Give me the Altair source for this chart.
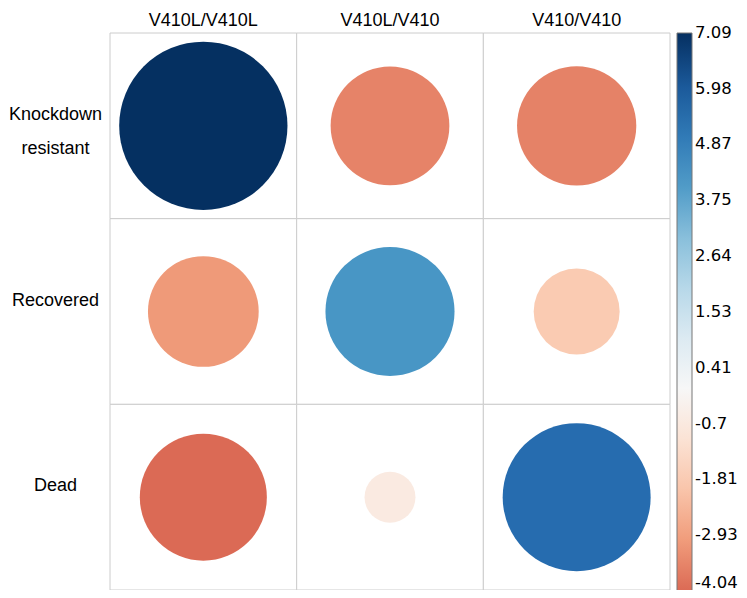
import altair as alt
import pandas as pd

rows = ["Knockdown resistant", "Recovered", "Dead"]
cols = ["V410L/V410L", "V410L/V410", "V410/V410"]
knockdown = [7.09, -3.53, -3.56]
recovered = [-3.07, 4.17, -1.85]
dead = [-4.04, -0.65, 5.48]
legend_ticks = [-4.04, -2.93, -1.81, -0.7, 0.41, 1.53, 2.64, 3.75, 4.87, 5.98, 7.09]

records = []
for r, vals in zip(rows, [knockdown, recovered, dead]):
    for c, v in zip(cols, vals):
        records.append({"row": r, "col": c, "value": v})
df = pd.DataFrame(records)

vmin, vmax = min(legend_ticks), max(legend_ticks)

# ColorBrewer RdBu (corrplot COL2) over a symmetric range, cut at vmin
rdbu = ["#67001f", "#b2182b", "#d6604d", "#f4a582", "#fddbc7", "#f7f7f7",
        "#d1e5f0", "#92c5de", "#4393c3", "#2166ac", "#053061"]
stops = [-vmax + 2 * vmax * i / 10 for i in range(11)]


def hex2rgb(h):
    return [int(h[i:i + 2], 16) for i in (1, 3, 5)]


def lerp_color(v):
    for i in range(10):
        if stops[i] <= v <= stops[i + 1]:
            f = (v - stops[i]) / (stops[i + 1] - stops[i])
            a, b = hex2rgb(rdbu[i]), hex2rgb(rdbu[i + 1])
            return "#" + "".join(f"{round(a[k] + (b[k] - a[k]) * f):02x}" for k in range(3))
    return rdbu[-1]


c_domain = [vmin] + [s for s in stops if s > vmin]
c_range = [lerp_color(vmin)] + [rdbu[i] for i, s in enumerate(stops) if s > vmin]

x = alt.X("col:N", sort=cols,
          scale=alt.Scale(paddingInner=0, paddingOuter=0),
          axis=alt.Axis(orient="top", title=None, domain=False, ticks=False,
                        labelAngle=0, labelFont="Liberation Sans", labelFontSize=18,
                        labelColor="black", labelPadding=4))
y = alt.Y("row:N", sort=rows,
          scale=alt.Scale(paddingInner=0, paddingOuter=0),
          axis=alt.Axis(title=None, domain=False, ticks=False,
                        labelFont="Liberation Sans", labelFontSize=18, labelColor="black",
                        labelAlign="center", labelBaseline="alphabetic",
                        labelPadding=55, labelOffset=-6, labelLineHeight=34,
                        labelExpr="split(datum.label, ' ')"))

grid = alt.Chart(df).mark_rect(fill="white", stroke="#cccccc", strokeWidth=1).encode(x=x, y=y)

circles = alt.Chart(df).transform_calculate(absval="abs(datum.value)").mark_circle(opacity=1).encode(
    x=x, y=y,
    size=alt.Size("absval:Q", scale=alt.Scale(domain=[0, vmax], range=[0, 28325], zero=True, nice=False),
                  legend=None),
    color=alt.Color("value:Q",
                    scale=alt.Scale(domain=c_domain, range=c_range, interpolate="rgb",
                                    nice=False, zero=False),
                    legend=alt.Legend(orient="right", offset=7, padding=0, title=None,
                                      direction="vertical", gradientLength=558,
                                      gradientThickness=15, gradientStrokeColor="#777777",
                                      gradientStrokeWidth=1, values=legend_ticks,
                                      labelFont="DejaVu Sans", labelFontSize=16.5,
                                      labelColor="black", labelOverlap=False,
                                      labelBaseline="middle", labelOffset=3,
                                      labelExpr="'' + datum.value")),
)

chart = alt.layer(grid, circles).properties(
    width=560, height=557,
    autosize=alt.AutoSizeParams(type="none"),
    padding={"left": 102, "top": 25, "right": 69, "bottom": 0},
).configure_view(stroke=None)

chart.save("out.html", embed_options={"renderer": "svg", "actions": False})
